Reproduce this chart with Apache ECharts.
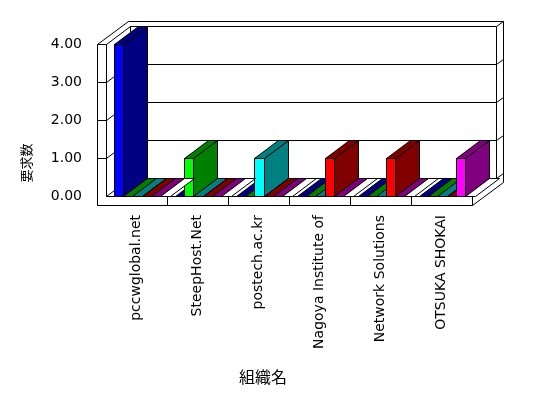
<!DOCTYPE html>
<html>
<head>
<meta charset="utf-8">
<script src="https://cdn.jsdelivr.net/npm/echarts@6/dist/echarts.min.js"></script>
<style>
    html, body { margin: 0; padding: 0; background: #fff; }
    #container { width: 548px; height: 398px; }
</style>
</head>
<body>
<div id="container"></div>
<script>
// 組織名
var categories = ['pccwglobal.net', 'SteepHost.Net', 'postech.ac.kr', 'Nagoya Institute of', 'Network Solutions', 'OTSUKA SHOKAI'];
// 要求数 (one list per series)
var blueValues = [4, 0, 0, 0, 0, 0];
var limeValues = [0, 1, 0, 0, 0, 0];
var cyanValues = [0, 0, 1, 0, 0, 0];
var redValues = [0, 0, 0, 1, 1, 0];
var magentaValues = [0, 0, 0, 0, 0, 1];
var whiteValues = [0, 0, 0, 0, 0, 0];
var yTicks = [0, 1, 2, 3, 4];

var seriesList = [blueValues, limeValues, cyanValues, redValues, magentaValues, whiteValues];
var frontColors = ['#0000ff', '#00ff00', '#00ffff', '#ff0000', '#ff00ff', '#ffffff'];
var darkColors = ['#000080', '#008000', '#008080', '#800000', '#800080', '#ffffff'];

var DX = 24, DY = -18;      // depth of the box
var BX = 7, BY = -5;        // thickness of the back wall
var WALL = 9, FLOOR = 9;    // left wall / floor slabs
var FONT = 'DejaVu Sans';

function px(v) {
    return Math.round(v) + 0.5;
}
function poly(points, fill) {
    return {
        type: 'polygon',
        shape: {points: points.map((p) => [px(p[0]), px(p[1])])},
        style: {fill: fill, stroke: '#000', lineWidth: 1}
    };
}
function seg(a, b) {
    return {
        type: 'line',
        shape: {x1: px(a[0]), y1: px(a[1]), x2: px(b[0]), y2: px(b[1])},
        style: {stroke: '#000', lineWidth: 1}
    };
}

function renderFrame(params, api) {
    var band = api.size([1, 0])[0];
    var p0 = api.coord([0, 0]);
    var x0 = p0[0] - band / 2;
    var y0 = p0[1];
    var x1 = api.coord([categories.length - 1, 0])[0] + band / 2;
    var yTop = api.coord([0, yTicks[yTicks.length - 1]])[1];
    var kids = [];
    // outer hull
    kids.push(poly([
        [x0 - WALL, yTop], [x0 - WALL + DX + BX, yTop + DY + BY], [x1 + DX + BX, yTop + DY + BY],
        [x1 + DX + BX, y0 + FLOOR + DY + BY], [x1, y0 + FLOOR], [x0 - WALL, y0 + FLOOR]
    ], '#fff'));
    // front L face (left wall + floor)
    kids.push(poly([
        [x0 - WALL, yTop], [x0, yTop], [x0, y0], [x1, y0], [x1, y0 + FLOOR], [x0 - WALL, y0 + FLOOR]
    ], '#fff'));
    kids.push(seg([x0, yTop], [x0 + DX, yTop + DY]));
    kids.push(seg([x0 + DX, yTop + DY], [x1 + DX, yTop + DY]));
    kids.push(seg([x1 + DX, yTop + DY], [x1 + DX + BX, yTop + DY + BY]));
    kids.push(seg([x0 + DX, yTop + DY], [x0 + DX, y0 + DY]));
    kids.push(seg([x1 + DX, yTop + DY], [x1 + DX, y0 + DY]));
    kids.push(seg([x0 + DX, y0 + DY], [x1 + DX, y0 + DY]));
    kids.push(seg([x0, y0], [x0 + DX, y0 + DY]));
    kids.push(seg([x1, y0], [x1 + DX, y0 + DY]));
    kids.push(seg([x1 + DX, y0 + DY], [x1 + DX + BX, y0 + DY + BY]));
    // grid lines on walls
    yTicks.slice(1, -1).forEach((t) => {
        var y = api.coord([0, t])[1];
        kids.push(seg([x0 - WALL, y], [x0, y]));
        kids.push(seg([x0, y], [x0 + DX, y + DY]));
        kids.push(seg([x0 + DX, y + DY], [x1 + DX, y + DY]));
        kids.push(seg([x1 + DX, y + DY], [x1 + DX + BX, y + DY + BY]));
    });
    // category cells on the floor front
    for (var i = 1; i < categories.length; i++) {
        kids.push(seg([x0 + i * band, y0], [x0 + i * band, y0 + FLOOR]));
    }
    return {type: 'group', children: kids};
}

function renderBar(slot) {
    return function (params, api) {
        var cat = api.value(0);
        var val = api.value(1);
        var band = api.size([1, 0])[0];
        var base = api.coord([cat, 0]);
        var top = api.coord([cat, val]);
        var w = band * 0.154;
        var x = base[0] - band / 2 + band * 0.123 + slot * w;
        var yb = base[1], yt = top[1];
        var kids = [];
        if (yb - yt > 0.5) {
            kids.push(poly([[x, yt], [x + w, yt], [x + w, yb], [x, yb]], frontColors[slot]));
            kids.push(poly([[x + w, yb], [x + w + DX, yb + DY], [x + w + DX, yt + DY], [x + w, yt]], darkColors[slot]));
        }
        kids.push(poly([[x, yt], [x + w, yt], [x + w + DX, yt + DY], [x + DX, yt + DY]], darkColors[slot]));
        return {type: 'group', children: kids};
    };
}

var myChart = echarts.init(document.getElementById('container'));

var series = [{
    type: 'custom',
    name: 'frame',
    z: 1,
    silent: true,
    renderItem: renderFrame,
    data: [[0, 0]]
}];
seriesList.forEach((values, slot) => {
    series.push({
        type: 'custom',
        z: 2,
        renderItem: renderBar(slot),
        data: values.map((v, i) => [i, v])
    });
});

option = {
    backgroundColor: '#fff',
    animation: false,
    grid: {
        left: 106,
        right: 76,
        top: 44,
        bottom: 202,
        outerBoundsMode: 'none'
    },
    xAxis: {
        type: 'category',
        data: categories,
        axisLine: {show: false},
        axisTick: {show: false},
        splitLine: {show: false},
        axisLabel: {
            rotate: 90,
            margin: 19,
            interval: 0,
            color: '#000',
            fontSize: 14,
            fontFamily: FONT
        }
    },
    yAxis: {
        type: 'value',
        min: yTicks[0],
        max: yTicks[yTicks.length - 1],
        interval: 1,
        axisLine: {show: false},
        axisTick: {show: false},
        splitLine: {show: false},
        axisLabel: {
            margin: 24,
            color: '#000',
            fontSize: 14,
            fontFamily: FONT,
            formatter: (v) => v.toFixed(2)
        }
    },
    graphic: [{
        type: 'text',
        x: 26,
        y: 163,
        rotation: Math.PI / 2,
        style: {
            text: '要求数',
            fill: '#000',
            font: '13px "Noto Sans CJK JP"',
            align: 'center',
            verticalAlign: 'middle'
        }
    }, {
        type: 'text',
        x: 263,
        y: 377,
        style: {
            text: '組織名',
            fill: '#000',
            font: '16px "Noto Sans CJK JP"',
            align: 'center',
            verticalAlign: 'middle'
        }
    }],
    series: series
};
myChart.setOption(option);
</script>
</body>
</html>
